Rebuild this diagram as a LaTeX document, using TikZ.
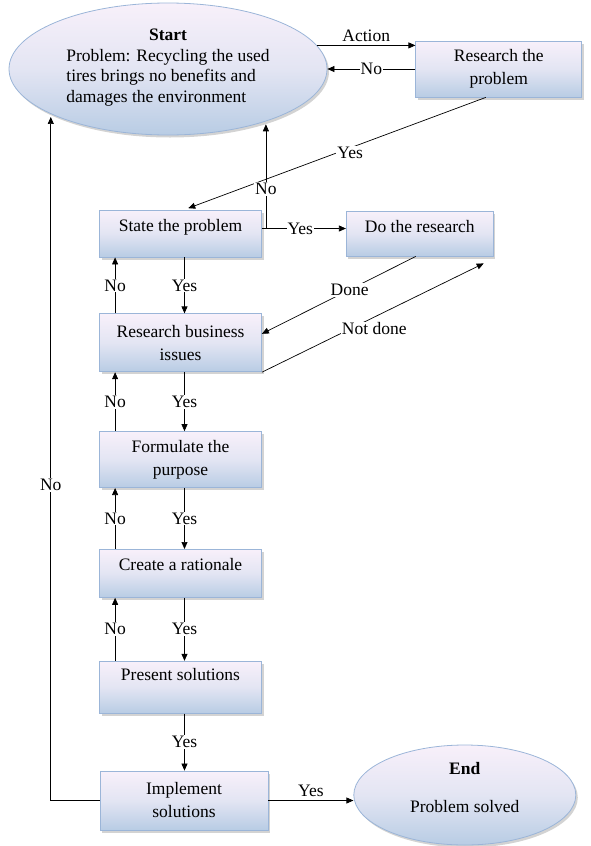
\documentclass[tikz,border=0pt]{standalone}
\usepackage{fontspec}
\setmainfont{Liberation Serif}
\usetikzlibrary{positioning,arrows.meta,shapes.geometric,shadows}

\definecolor{boxtop}{HTML}{F8F0FA}
\definecolor{boxmid}{HTML}{E3E5F3}
\definecolor{boxbot}{HTML}{B8CCE4}
\definecolor{boxline}{HTML}{9BB5D8}

\begin{document}
\begin{tikzpicture}[
  x=1pt, y=1pt,
  font=\fontsize{17.5}{23}\selectfont, >={Triangle[length=7pt,width=6pt]},
  line width=0.7pt,
  box/.style={draw=boxline,line width=0.8pt,top color=boxtop,bottom color=boxbot,middle color=boxmid,
    drop shadow={shadow xshift=2pt,shadow yshift=-2.5pt,opacity=0.35},align=center,minimum width=162pt,inner sep=0pt},
  onebox/.style={box,text height=21pt},
  oval/.style={box,ellipse,inner sep=0pt},
  lbl/.style={fill=white,inner sep=1pt}
]
\useasboundingbox (0,0) rectangle (591,-846);
\node[oval,minimum width=318pt,minimum height=132pt,font=\fontsize{17.5}{20.5}\selectfont] (start) at (168,-69)
  {\textbf{Start}\\\begin{tabular}[t]{@{}l@{}}Problem: Recycling the used\\tires brings no benefits and\\damages the environment\end{tabular}};
\node[box,minimum width=166pt,minimum height=56pt,right=88pt of start] (research) {Research the\\problem};
\node[onebox,text depth=26pt] (state) at (180.5,-233.5) {State the problem};
\node[onebox,text depth=24pt,minimum width=147pt,right=84pt of state] (do) {Do the research};
\node[box,minimum height=58pt,below=56pt of state] (rbi) {Research business\\issues};
\node[box,minimum height=56pt,below=59pt of rbi] (purpose) {Formulate the\\purpose};
\node[onebox,text depth=27pt,below=61pt of purpose] (rationale) {Create a rationale};
\node[onebox,text depth=33pt,below=63pt of rationale,text height=19pt] (present) {Present solutions};
\node[box,minimum width=168pt,minimum height=59pt,below=57pt of present,xshift=3.5pt] (impl) {Implement\\solutions};
\node[oval,minimum width=222pt,minimum height=100pt,right=85pt of impl,yshift=5.5pt,text depth=15pt] (end) {\textbf{End}\\[15pt]Problem solved};
\coordinate (fork) at ([xshift=4pt,yshift=5pt]state.east);
\coordinate (dotip) at ([shift={(-10pt,-7pt)}]do.south east);

% top loop
\draw[->] (start.9) -- node[above]{Action} (start.9 -| research.west);
\draw[->] (research.west) -- node[lbl]{No} (start.east);
\draw[->,shorten >=4pt] ([xshift=-13pt]research.south) -- node[lbl,pos=0.45,yshift=-5pt]{Yes} ([xshift=4pt]state.north);
\draw ([yshift=5pt]state.east) -- (fork);
\draw[->,shorten >=3pt] (fork) -- node[lbl,pos=0.37]{No} (fork |- start.332);
\draw[->] (fork) -- node[lbl,pos=0.43]{Yes} (fork -| do.west);
\draw[->] ([xshift=-4pt]do.south) -- node[lbl,pos=0.43]{Done} ([yshift=9pt]rbi.east);
\draw[->] (rbi.south east) -- node[lbl,pos=0.4,anchor=west,xshift=-10pt]{Not done} (dotip);

% main column
\draw[->] ([xshift=16pt]rbi.north west) -- node[lbl]{No} ([xshift=16pt]state.south west);
\draw[->] ([xshift=4pt]state.south) -- node[lbl]{Yes} ([xshift=4pt]rbi.north);
\draw[->] ([xshift=16pt]purpose.north west) -- node[lbl]{No} ([xshift=16pt]rbi.south west);
\draw[->] ([xshift=4pt]rbi.south) -- node[lbl]{Yes} ([xshift=4pt]purpose.north);
\draw[->] ([xshift=16pt]rationale.north west) -- node[lbl]{No} ([xshift=16pt]purpose.south west);
\draw[->] ([xshift=4pt]purpose.south) -- node[lbl]{Yes} ([xshift=4pt]rationale.north);
\draw[->] ([xshift=16pt]present.north west) -- node[lbl]{No} ([xshift=16pt]rationale.south west);
\draw[->] ([xshift=4pt]rationale.south) -- node[lbl]{Yes} ([xshift=4pt]present.north);
\draw[->] ([xshift=4pt]present.south) -- node[lbl]{Yes} ([xshift=4pt]present.south |- impl.north);

% exits
\draw[->] (impl.east) -- node[above]{Yes} (impl.east -| end.west);
\draw[->,shorten >=3pt] (impl.west) -| node[lbl,pos=0.73]{No} (start.201);
\end{tikzpicture}
\end{document}
